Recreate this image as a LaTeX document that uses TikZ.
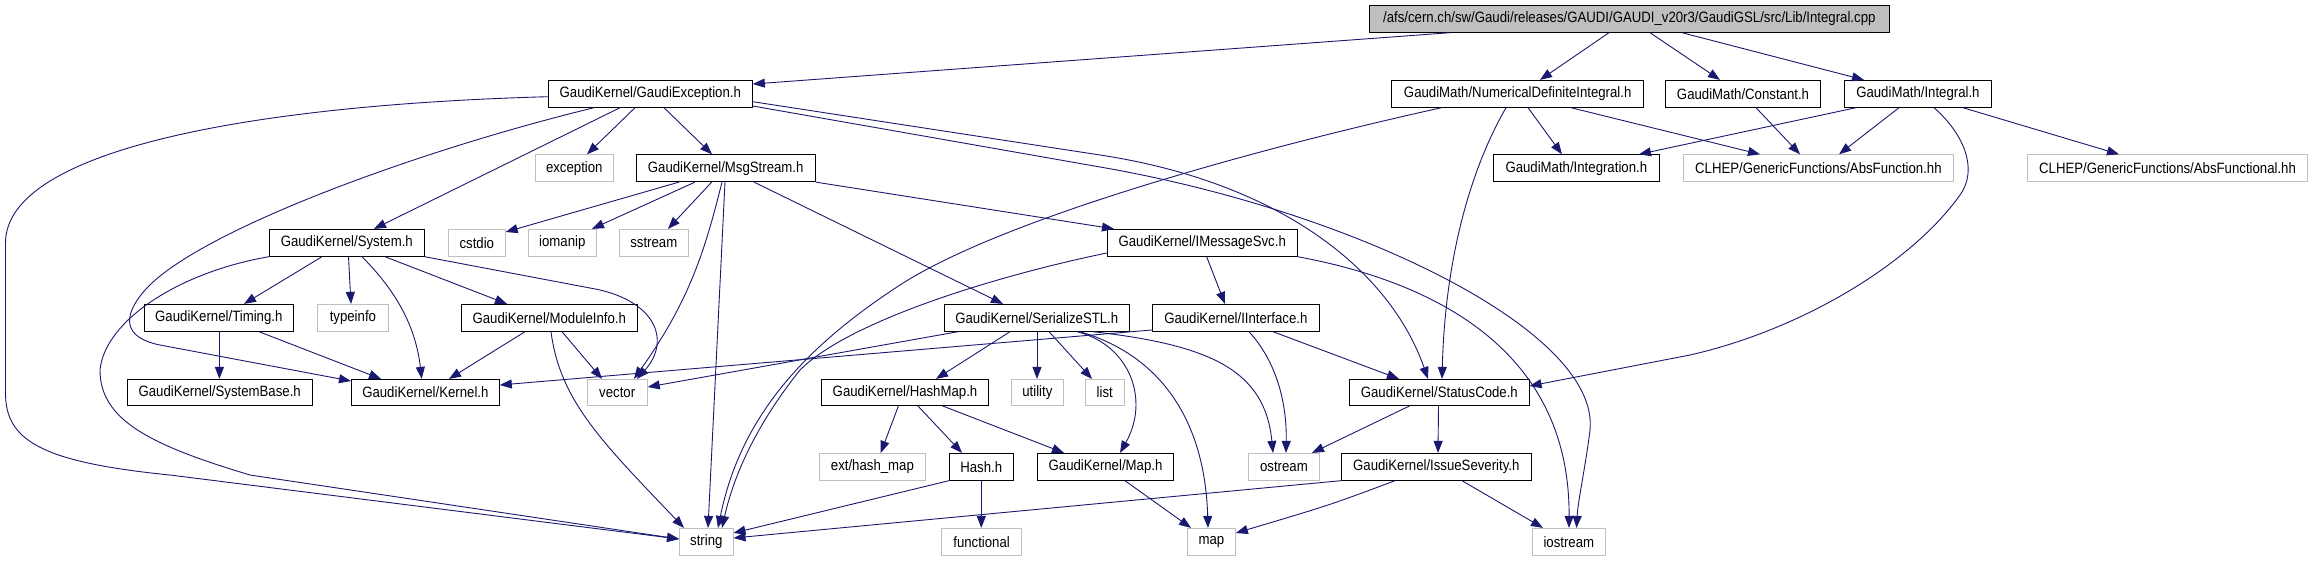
\documentclass[tikz,border=0pt]{standalone}
\usepackage{fontspec}
\setmainfont{Liberation Sans}[FakeStretch=0.88]
\usetikzlibrary{arrows.meta}
\definecolor{edgec}{HTML}{191970}
\definecolor{sysg}{HTML}{BFBFBF}
\begin{document}
\begin{tikzpicture}[x=1pt,y=-1pt,
  lbox/.style={draw=black, line width=0.8pt, inner sep=0pt, minimum height=27pt, font=\fontsize{15}{18}\selectfont, text=black},
  gbox/.style={lbox, draw=sysg},
  dep/.style={draw=edgec, line width=0.9pt, -{Triangle[length=12pt,width=9pt]}}]
\fill[white] (0,0) rectangle (2312,560);
\useasboundingbox (0,0) rectangle (2312,560);
% row 0
\node[lbox, fill=sysg, minimum width=520pt] (root) at (1629.3,18.8) {/afs/cern.ch/sw/Gaudi/releases/GAUDI/GAUDI\_v20r3/GaudiGSL/src/Lib/Integral.cpp};
% row 1
\node[lbox, minimum width=204.2pt] (ge) at (650.3,93.8) {GaudiKernel/GaudiException.h};
\node[lbox, minimum width=252.3pt] (ndi) at (1517.7,93.8) {GaudiMath/NumericalDefiniteIntegral.h};
\node[lbox, minimum width=155.3pt] (cnst) at (1743,93.8) {GaudiMath/Constant.h};
\node[lbox, minimum width=147pt] (integral) at (1917.9,93.8) {GaudiMath/Integral.h};
% row 2
\node[gbox, minimum width=78.1pt] (exception) at (574.3,168.2) {exception};
\node[lbox, minimum width=179pt] (msg) at (725.7,168.2) {GaudiKernel/MsgStream.h};
\node[lbox, minimum width=166pt] (integration) at (1576.3,168.2) {GaudiMath/Integration.h};
\node[gbox, minimum width=270pt] (absfn) at (1818.4,168.2) {CLHEP/GenericFunctions/AbsFunction.hh};
\node[gbox, minimum width=279.9pt] (absfnl) at (2167.5,168.2) {CLHEP/GenericFunctions/AbsFunctional.hh};
% row 3
\node[lbox, minimum width=155pt] (system) at (346.8,242.8) {GaudiKernel/System.h};
\node[gbox, minimum width=57pt] (cstdio) at (476.8,242.8) {cstdio};
\node[gbox, minimum width=68.1pt] (iomanip) at (562.3,242.8) {iomanip};
\node[gbox, minimum width=69.2pt] (sstream) at (653.8,242.8) {sstream};
\node[lbox, minimum width=190.1pt] (imsg) at (1202.2,242.8) {GaudiKernel/IMessageSvc.h};
% row 4
\node[lbox, minimum width=149pt] (timing) at (218.8,317.8) {GaudiKernel/Timing.h};
\node[gbox, minimum width=71pt] (typeinfo) at (352.9,317.8) {typeinfo};
\node[lbox, minimum width=176pt] (modinfo) at (549.3,317.8) {GaudiKernel/ModuleInfo.h};
\node[lbox, minimum width=185pt] (serial) at (1036.8,317.8) {GaudiKernel/SerializeSTL.h};
\node[lbox, minimum width=167.2pt] (iinterface) at (1235.8,317.8) {GaudiKernel/IInterface.h};
% row 5
\node[lbox, minimum width=185pt, minimum height=26pt] (sysbase) at (219.7,392.3) {GaudiKernel/SystemBase.h};
\node[lbox, minimum width=148pt, minimum height=26pt] (kernel) at (425.4,392.3) {GaudiKernel/Kernel.h};
\node[gbox, minimum width=60.3pt, minimum height=26pt] (vector) at (617.2,392.3) {vector};
\node[lbox, minimum width=166.9pt, minimum height=26pt] (hashmap) at (905,392.3) {GaudiKernel/HashMap.h};
\node[gbox, minimum width=52.2pt, minimum height=26pt] (utility) at (1037.4,392.3) {utility};
\node[gbox, minimum width=38.8pt, minimum height=26pt] (listn) at (1104.7,392.3) {list};
\node[lbox, minimum width=179.7pt, minimum height=26pt] (statuscode) at (1439.3,392.3) {GaudiKernel/StatusCode.h};
% row 6
\node[gbox, minimum width=105.4pt] (exthash) at (872.4,466.8) {ext/hash\_map};
\node[lbox, minimum width=63.9pt] (hash) at (981.2,466.8) {Hash.h};
\node[lbox, minimum width=135.7pt] (maph) at (1105.5,466.8) {GaudiKernel/Map.h};
\node[gbox, minimum width=71pt] (ostream) at (1283.9,466.8) {ostream};
\node[lbox, minimum width=190.2pt] (issue) at (1436.3,466.8) {GaudiKernel/IssueSeverity.h};
% row 7
\node[gbox, minimum width=53.6pt] (stringn) at (706.3,541.8) {string};
\node[gbox, minimum width=79.5pt] (functional) at (981.6,541.8) {functional};
\node[gbox, minimum width=48.1pt] (mapstd) at (1211.4,541.8) {map};
\node[gbox, minimum width=72.5pt] (iostream) at (1568.8,541.8) {iostream};

% root
\draw[dep] (root.south -| 1450,0) -- (ge.east |- 0,84);
\draw[dep] (root.south -| 1609,0) -- (ndi.north -| 1540,0);
\draw[dep] (root.south -| 1650,0) -- (cnst.north -| 1720,0);
\draw[dep] (root.south -| 1682,0) -- (integral.north -| 1864,0);
% GaudiException
\draw[dep] (ge.west |- 0,96.7) .. controls (250,105) and (5.5,150) .. (5.5,243) -- (5.5,393) .. controls (5.5,440) and (40,462) .. (170,475) -- (stringn.west |- 0,539);
\draw[dep] (ge.south -| 594,0) .. controls (420,150) and (200,230) .. (146,289) .. controls (120,318) and (125,338) .. (160,345) -- (kernel.west |- 0,381);
\draw[dep] (ge.south -| 620,0) -- (system.north -| 374,0);
\draw[dep] (ge.south -| 635,0) -- (exception.north -| 587,0);
\draw[dep] (ge.south -| 664,0) -- (msg.north -| 712,0);
\draw[dep] (ge.east |- 0,101.7) -- (1100,155) .. controls (1280,182.4) and (1390,270) .. (statuscode.north -| 1428,0);
\draw[dep] (ge.east |- 0,106) -- (1100,167) .. controls (1350,210) and (1600,330) .. (1590,430) .. controls (1585,470) and (1578,500) .. (iostream.north -| 1576.5,0);
% NumericalDefiniteIntegral
\draw[dep] (ndi.south -| 1441.5,0) .. controls (1250,150) and (1000,220) .. (900,285) .. controls (800,350) and (740,420) .. (stringn.north -| 718,0);
\draw[dep] (ndi.south -| 1506,0) .. controls (1470,170) and (1445,260) .. (statuscode.north -| 1442,0);
\draw[dep] (ndi.south -| 1528,0) -- (integration.north -| 1562,0);
\draw[dep] (ndi.south -| 1571,0) -- (absfn.north -| 1760,0);
% Constant
\draw[dep] (cnst.south -| 1756,0) -- (absfn.north -| 1800,0);
% Integral
\draw[dep] (integral.south -| 1856,0) -- (integration.north -| 1639,0);
\draw[dep] (integral.south -| 1899,0) -- (absfn.north -| 1839,0);
\draw[dep] (integral.south -| 1934,0) .. controls (1965,135) and (1978,170) .. (1960,195) .. controls (1910,265) and (1800,330) .. (1690,355) -- (statuscode.east |- 0,386);
\draw[dep] (integral.south -| 1963,0) -- (absfnl.north -| 2119,0);
% MsgStream
\draw[dep] (msg.south -| 679,0) -- (cstdio.east |- 0,232);
\draw[dep] (msg.south -| 695,0) -- (iomanip.north -| 592,0);
\draw[dep] (msg.south -| 711.7,0) -- (sstream.north -| 668,0);
\draw[dep] (msg.south -| 725,0) -- (stringn.north -| 708,0);
\draw[dep] (msg.south -| 722,0) .. controls (705,250) and (690,300) .. (vector.north -| 634,0);
\draw[dep] (msg.south -| 754,0) -- (serial.north -| 1003,0);
\draw[dep] (msg.south east) -- (imsg.north -| 1114,0);
% System
\draw[dep] (system.south west) .. controls (180,272) and (105,320) .. (100,370) .. controls (100,420) and (150,445) .. (250,475) -- (stringn.west |- 0,539);
\draw[dep] (system.south -| 322,0) -- (timing.north -| 244,0);
\draw[dep] (system.south -| 348.5,0) -- (typeinfo.north -| 351,0);
\draw[dep] (system.south -| 362,0) .. controls (390,285) and (415,320) .. (kernel.north -| 421.7,0);
\draw[dep] (system.south -| 385,0) -- (modinfo.north -| 507,0);
\draw[dep] (system.south east) -- (590,288) .. controls (655,299) and (672,340) .. (vector.north -| 637,0);
% Timing
\draw[dep] (timing.south -| 219.4,0) -- (sysbase.north -| 219.4,0);
\draw[dep] (timing.south -| 259,0) -- (kernel.north -| 381,0);
% ModuleInfo
\draw[dep] (modinfo.south -| 525,0) -- (kernel.north -| 449,0);
\draw[dep] (modinfo.south -| 562,0) -- (vector.north -| 602,0);
\draw[dep] (modinfo.south -| 551,0) .. controls (560,400) and (600,440) .. (stringn.north -| 684,0);
% IMessageSvc
\draw[dep] (imsg.south -| 1206.6,0) -- (iinterface.north -| 1225,0);
\draw[dep] (imsg.west |- 0,253) .. controls (1000,275) and (850,320) .. (800,370) .. controls (760,420) and (735,470) .. (stringn.north -| 722,0);
\draw[dep] (imsg.south east) .. controls (1450,285) and (1570,360) .. (iostream.north -| 1569,0);
% IInterface
\draw[dep] (iinterface.west |- 0,330) -- (kernel.east |- 0,385);
\draw[dep] (iinterface.south -| 1249,0) .. controls (1275,360) and (1287,400) .. (ostream.north -| 1286,0);
\draw[dep] (iinterface.south -| 1273,0) -- (statuscode.north -| 1399,0);
% SerializeSTL
\draw[dep] (serial.south -| 958,0) -- (vector.east |- 0,387);
\draw[dep] (serial.south -| 1010,0) -- (hashmap.north -| 936,0);
\draw[dep] (serial.south -| 1037,0) -- (utility.north -| 1037,0);
\draw[dep] (serial.south -| 1049,0) -- (listn.north -| 1092,0);
\draw[dep] (serial.south -| 1077,0) .. controls (1130,345) and (1150,400) .. (maph.north -| 1120,0);
\draw[dep] (serial.south -| 1080,0) .. controls (1160,355) and (1205,420) .. (mapstd.north -| 1208,0);
\draw[dep] (serial.south -| 1093,0) .. controls (1210,345) and (1265,370) .. (ostream.north -| 1273,0);
% HashMap
\draw[dep] (hashmap.south -| 898.5,0) -- (exthash.north -| 880.7,0);
\draw[dep] (hashmap.south -| 917.7,0) -- (hash.north -| 962,0);
\draw[dep] (hashmap.south -| 942,0) -- (maph.north -| 1064,0);
% Hash
\draw[dep] (hash.south west) -- (stringn.east |- 0,533);
\draw[dep] (hash.south -| 981.3,0) -- (functional.north -| 981.3,0);
% Map.h
\draw[dep] (maph.south -| 1125,0) -- (mapstd.north -| 1191,0);
% StatusCode
\draw[dep] (statuscode.south -| 1410,0) -- (ostream.north -| 1312,0);
\draw[dep] (statuscode.south -| 1438.5,0) -- (issue.north -| 1438,0);
% IssueSeverity
\draw[dep] (issue.south west) -- (stringn.east |- 0,538);
\draw[dep] (issue.south -| 1395,0) .. controls (1330,505) .. (mapstd.east |- 0,533);
\draw[dep] (issue.south -| 1462,0) -- (iostream.north -| 1543,0);
\end{tikzpicture}
\end{document}
